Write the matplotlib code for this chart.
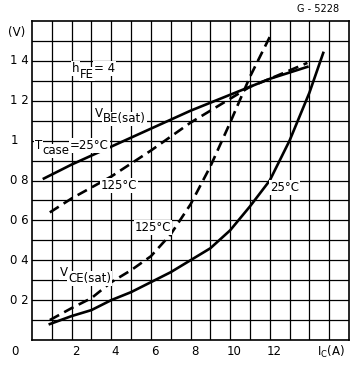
import matplotlib
matplotlib.use("Agg")
import matplotlib.pyplot as plt
import numpy as np

# (I_C in A, V in volts)
vbe25_ic = [0.6, 2, 4, 6, 8, 10, 12, 13.9]
vbe25_v = [0.81, 0.88, 0.97, 1.06, 1.15, 1.23, 1.31, 1.37]

vbe125_ic = [0.9, 2, 4, 6, 7, 8, 9, 10, 11, 12, 13.9]
vbe125_v = [0.64, 0.71, 0.82, 0.95, 1.02, 1.09, 1.15, 1.21, 1.27, 1.31, 1.39]

vce25_ic = [0.9, 2, 3, 4, 5, 6, 7, 8, 9, 10, 11, 12, 13, 14, 14.7]
vce25_v = [0.08, 0.12, 0.15, 0.20, 0.24, 0.29, 0.34, 0.40, 0.46, 0.55, 0.67, 0.80, 1.00, 1.24, 1.44]

vce125_ic = [0.9, 2, 3, 4, 5, 6, 7, 8, 9, 10, 11, 12.1]
vce125_v = [0.10, 0.16, 0.21, 0.29, 0.35, 0.42, 0.53, 0.68, 0.87, 1.09, 1.32, 1.54]

xtick_vals = [2, 4, 6, 8, 10, 12]
xtick_labels = ["2", "4", "6", "8", "10", "12"]
ytick_vals = [0.2, 0.4, 0.6, 0.8, 1.0, 1.2, 1.4]
ytick_labels = ["0 2", "0 4", "0 6", "0 8", "1", "1 2", "1 4"]

fig = plt.figure(figsize=(3.53, 3.69), dpi=100)
ax = fig.add_axes((32 / 353, 29 / 369, 317 / 353, 319 / 369))
ax.set_xlim(0, 16)
ax.set_ylim(0, 1.6)

for gx in np.arange(1, 16):
    ax.axvline(gx, color="k", lw=0.9, zorder=1)
for gy in np.arange(0.1, 1.6, 0.1):
    ax.axhline(gy, color="k", lw=0.9, zorder=1)
for s in ax.spines.values():
    s.set_linewidth(1.2)
ax.set_xticks([])
ax.set_yticks([])

dash = (0, (4, 2.2))
ax.plot(vbe25_ic, vbe25_v, color="k", lw=1.9, zorder=3)
ax.plot(vbe125_ic, vbe125_v, color="k", lw=1.9, ls=dash, zorder=3)
ax.plot(vce25_ic, vce25_v, color="k", lw=1.9, zorder=3)
ax.plot(vce125_ic, vce125_v, color="k", lw=1.9, ls=dash, zorder=3)

fs = 8.5
for v, lab in zip(ytick_vals, ytick_labels):
    ax.text(-1.1, v, lab, ha="left", va="center", fontsize=fs, clip_on=False)
for x, lab in zip(xtick_vals, xtick_labels):
    ax.text(x + 0.2, -0.06, lab, ha="center", va="center", fontsize=fs, clip_on=False)
ax.text(-1.05, -0.06, "0", ha="left", va="center", fontsize=fs, clip_on=False)
ax.text(15.1, -0.06, "I$_\\mathregular{C}$(A)", ha="center", va="center", fontsize=fs, clip_on=False)
ax.text(-1.2, 1.54, "(V)", ha="left", va="center", fontsize=fs, clip_on=False)
ax.text(15.5, 1.66, "G - 5228", ha="right", va="center", fontsize=7, clip_on=False)

box = dict(facecolor="white", edgecolor="none", pad=0.6)


def _sub_label(x, y, main, sub, rest, color, bbox, z):
    t = ax.text(x, y, main, fontsize=fs, va="baseline", color=color,
                bbox=bbox, zorder=z)
    s = ax.annotate(sub, xy=(1, 0), xycoords=t, xytext=(0.4, -2.0),
                    textcoords="offset points", fontsize=fs, va="baseline",
                    color=color, bbox=bbox, zorder=z)
    if rest:
        # x follows the subscript, y goes back to the main letter
        ax.annotate(rest, xy=(1, 0), xycoords=(s, t), xytext=(0.2, 2.0),
                    textcoords="offset points", fontsize=fs, va="baseline",
                    color=color, bbox=bbox, zorder=z)


def sub_label(x, y, main, sub, rest=""):
    # white boxes underneath first, black glyphs on top
    _sub_label(x, y, main, sub, rest, "white", box, 4)
    _sub_label(x, y, main, sub, rest, "black", None, 5)


sub_label(2.0, 1.345, "h", "FE", "= 4")
sub_label(3.15, 1.12, "V", "BE(sat)")
sub_label(0.15, 0.96, "T", "case", "=25°C")
sub_label(1.4, 0.32, "V", "CE(sat)")
ax.text(3.45, 0.775, "125°C", fontsize=fs, va="center", bbox=box, zorder=4)
ax.text(5.2, 0.565, "125°C", fontsize=fs, va="center", bbox=box, zorder=4)
ax.text(12.0, 0.765, "25°C", fontsize=fs, va="center", bbox=box, zorder=4)

fig.savefig("out.png", dpi=100)
